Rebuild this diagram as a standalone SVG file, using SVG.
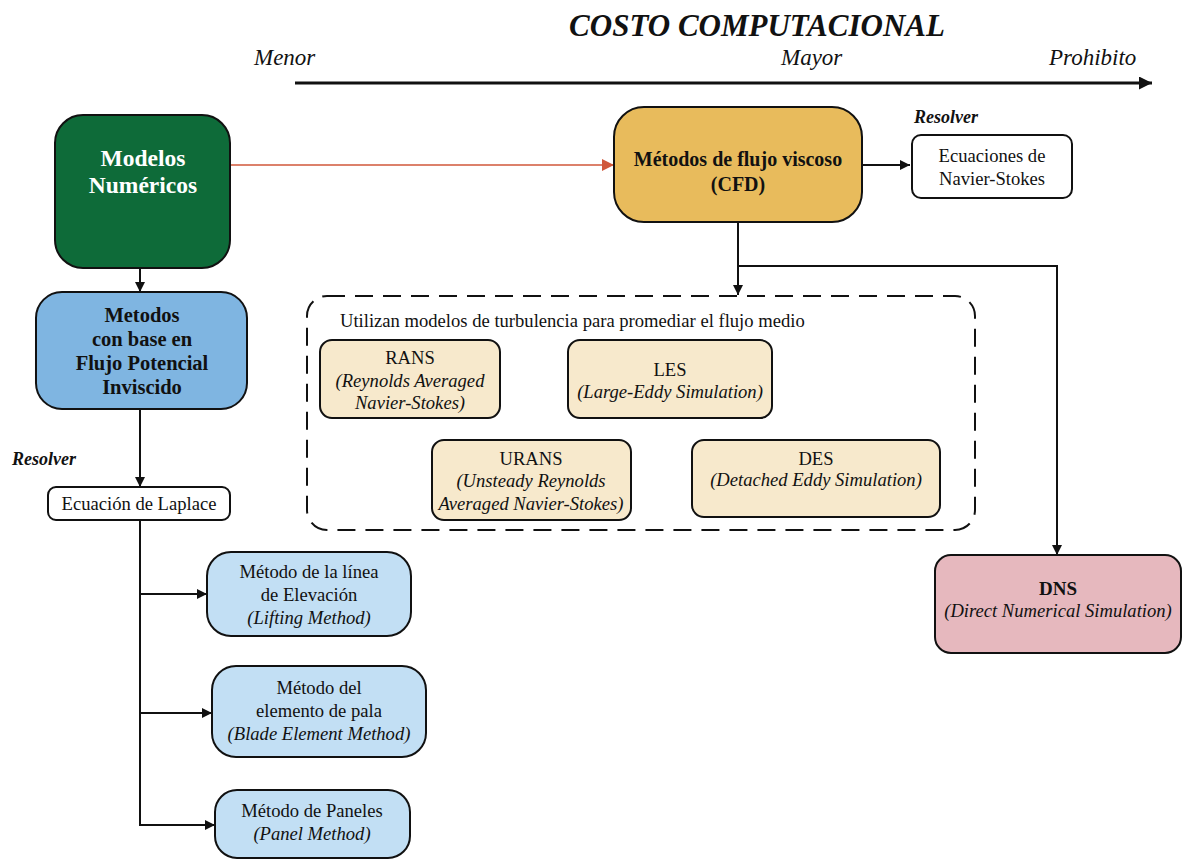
<svg xmlns="http://www.w3.org/2000/svg" width="1182" height="861" viewBox="0 0 1182 861" font-family="'Liberation Serif', 'DejaVu Serif', serif">
<style>
text{fill:#111}
.c{text-anchor:middle}
.b{font-weight:bold}
.i{font-style:italic}
.n{stroke:#111;stroke-width:2}
.ln{fill:none;stroke:#111;stroke-width:2}
.t{font-size:18.6px}
</style>
<defs>
<marker id="ah" viewBox="0 0 10 10" refX="10" refY="5" markerWidth="10" markerHeight="10" markerUnits="userSpaceOnUse" orient="auto"><path d="M0,0L10,5L0,10z" fill="#111"/></marker>
<marker id="ahl" viewBox="0 0 10 10" refX="10" refY="5" markerWidth="13" markerHeight="13" markerUnits="userSpaceOnUse" orient="auto"><path d="M0,0L10,5L0,10z" fill="#111"/></marker>
<marker id="ahr" viewBox="0 0 10 10" refX="10" refY="5" markerWidth="12" markerHeight="12" markerUnits="userSpaceOnUse" orient="auto"><path d="M0,0L10,5L0,10z" fill="#d0573a"/></marker>
</defs>

<g id="header">
<text class="c b i" x="757" y="36" font-size="31">COSTO COMPUTACIONAL</text>
<text class="i" x="254" y="65" font-size="23">Menor</text>
<text class="i" x="781" y="65" font-size="23">Mayor</text>
<text class="i" x="1049" y="65" font-size="23">Prohibito</text>
</g>

<g id="connectors">
<line x1="295" y1="83" x2="1152" y2="83" stroke="#111" stroke-width="3" marker-end="url(#ahl)"/>
<line x1="230" y1="165" x2="614" y2="165" stroke="#d0573a" stroke-width="1.5" marker-end="url(#ahr)"/>
<line class="ln" x1="862" y1="165" x2="910" y2="165" marker-end="url(#ah)"/>
<polyline class="ln" points="738,222 738,295" marker-end="url(#ah)"/>
<polyline class="ln" points="738,266 1057,266 1057,555" marker-end="url(#ah)"/>
<line class="ln" x1="140" y1="268" x2="140" y2="292" marker-end="url(#ah)"/>
<line class="ln" x1="140" y1="409" x2="140" y2="487" marker-end="url(#ah)"/>
<polyline class="ln" points="140,520 140,825 215,825" marker-end="url(#ah)"/>
<line class="ln" x1="140" y1="594" x2="207" y2="594" marker-end="url(#ah)"/>
<line class="ln" x1="140" y1="713" x2="212" y2="713" marker-end="url(#ah)"/>
<text class="b i" x="914" y="123" font-size="18">Resolver</text>
<text class="b i" x="12" y="465" font-size="18">Resolver</text>
</g>

<g id="modelos">
<rect class="n" x="55" y="115" width="175" height="153" rx="28" fill="#0e6b39"/>
<text class="c b" x="143" y="166" font-size="23.5" style="fill:#fff">Modelos</text>
<text class="c b" x="143" y="193" font-size="23.5" style="fill:#fff">Numéricos</text>
</g>

<g id="cfd">
<rect class="n" x="614" y="107" width="248" height="115" rx="30" fill="#e8bb5c"/>
<text class="c b" x="738" y="166" font-size="20">Métodos de flujo viscoso</text>
<text class="c b" x="738" y="191" font-size="20">(CFD)</text>
</g>

<g id="navier">
<rect class="n" x="912" y="135" width="160" height="63" rx="9" fill="#fff"/>
<text class="c t" x="992" y="162">Ecuaciones de</text>
<text class="c t" x="992" y="185">Navier-Stokes</text>
</g>

<g id="turbulencia">
<rect x="307" y="296" width="668" height="234" rx="20" fill="none" stroke="#111" stroke-width="2" stroke-dasharray="18,10"/>
<text class="t" x="340" y="327">Utilizan modelos de turbulencia para promediar el flujo medio</text>
</g>

<g id="rans">
<rect class="n" x="320" y="340" width="180" height="78" rx="12" fill="#f7e9cc"/>
<text class="c t" x="410" y="364">RANS</text>
<text class="c i t" x="410" y="387">(Reynolds Averaged</text>
<text class="c i t" x="410" y="409">Navier-Stokes)</text>
</g>

<g id="les">
<rect class="n" x="568" y="340" width="204" height="78" rx="12" fill="#f7e9cc"/>
<text class="c t" x="670" y="376">LES</text>
<text class="c i t" x="670" y="398">(Large-Eddy Simulation)</text>
</g>

<g id="urans">
<rect class="n" x="432" y="440" width="199" height="80" rx="12" fill="#f7e9cc"/>
<text class="c t" x="531" y="465">URANS</text>
<text class="c i t" x="531" y="487">(Unsteady Reynolds</text>
<text class="c i t" x="531" y="510">Averaged Navier-Stokes)</text>
</g>

<g id="des">
<rect class="n" x="692" y="440" width="248" height="77" rx="12" fill="#f7e9cc"/>
<text class="c t" x="816" y="465">DES</text>
<text class="c i t" x="816" y="486">(Detached Eddy Simulation)</text>
</g>

<g id="potencial">
<rect class="n" x="36" y="292" width="211" height="117" rx="26" fill="#7fb5e1"/>
<text class="c b" x="142" y="322" font-size="20.5">Metodos</text>
<text class="c b" x="142" y="346" font-size="20.5">con base en</text>
<text class="c b" x="142" y="370" font-size="20.5">Flujo Potencial</text>
<text class="c b" x="142" y="394" font-size="20.5">Inviscido</text>
</g>

<g id="laplace">
<rect class="n" x="48" y="487" width="182" height="33" rx="8" fill="#fff"/>
<text class="c t" x="139" y="510">Ecuación de Laplace</text>
</g>

<g id="lifting">
<rect class="n" x="207" y="552" width="204" height="84" rx="24" fill="#c2dff4"/>
<text class="c t" x="309" y="578">Método de la línea</text>
<text class="c t" x="309" y="601">de Elevación</text>
<text class="c i t" x="309" y="624">(Lifting Method)</text>
</g>

<g id="blade">
<rect class="n" x="212" y="666" width="214" height="91" rx="24" fill="#c2dff4"/>
<text class="c t" x="319" y="694">Método del</text>
<text class="c t" x="319" y="717">elemento de pala</text>
<text class="c i t" x="319" y="740">(Blade Element Method)</text>
</g>

<g id="panel">
<rect class="n" x="215" y="790" width="195" height="68" rx="22" fill="#c2dff4"/>
<text class="c t" x="312" y="817">Método de Paneles</text>
<text class="c i t" x="312" y="840">(Panel Method)</text>
</g>

<g id="dns">
<rect class="n" x="935" y="555" width="246" height="98" rx="16" fill="#e6b8be"/>
<text class="c b" x="1058" y="595" font-size="19">DNS</text>
<text class="c i t" x="1058" y="617">(Direct Numerical Simulation)</text>
</g>
</svg>
